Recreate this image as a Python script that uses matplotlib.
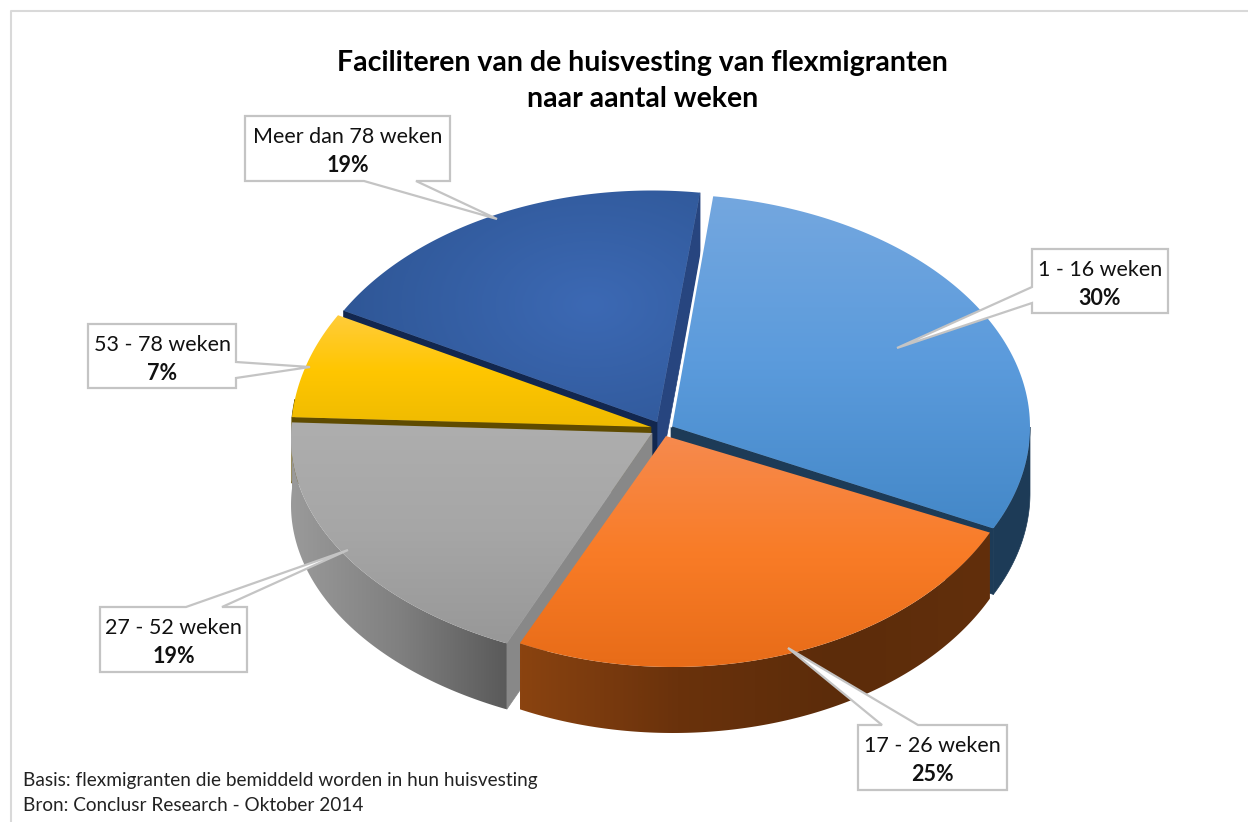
import numpy as np
import matplotlib
matplotlib.use("Agg")
import matplotlib.pyplot as plt
from matplotlib.colors import LinearSegmentedColormap
from matplotlib.patches import Polygon

plt.rcParams['font.family'] = ['Lato', 'DejaVu Sans']

# chart values
labels = ['1 - 16 weken', '17 - 26 weken', '27 - 52 weken', '53 - 78 weken', 'Meer dan 78 weken']
values = [30, 25, 19, 7, 19]
title = 'Faciliteren van de huisvesting van flexmigranten\nnaar aantal weken'
notes = ['Basis: flexmigranten die bemiddeld worden in hun huisvesting',
         'Bron: Conclusr Research - Oktober 2014']
start_angle = 7.8

# slice geometry in pixels: apex, then ellipse centre and radii of the arc
apex = [(671, 426), (666, 436), (652, 433), (651, 427), (657, 422)]
arc = [(662, 427, 368, 233), (673, 429, 352, 238), (673, 439, 382, 227),
       (656, 435, 365, 244), (652, 426.5, 354, 236)]
depth = 66

face_cols = [['#74a7df', '#5b9bdc', '#4488c8'],
             ['#f68a4e', '#f97c27', '#e86c18'],
             ['#aeaeae', '#a6a6a6', '#989898'],
             ['#ffcc3a', '#ffc600', '#efbb00'],
             None]
wall_cols = ['#1d3b57', '#5c2c0a', '#888888', '#5f4b00', '#12274f']

fig = plt.figure(figsize=(12.48, 8.22), dpi=100)
ax = fig.add_axes([0, 0, 1, 1])


def arc_pts(i, t0, t1, n=120):
    cx, cy, a, b = arc[i]
    t = np.radians(np.linspace(t0, t1, n))
    return np.column_stack([cx + a * np.sin(t), cy - b * np.cos(t)])


def flat(verts, color, z=1):
    ax.add_patch(Polygon(verts, closed=True, fc=color, ec=color, lw=0.5, zorder=z))


def shaded(verts, cols, z=1, horizontal=False, radial=None):
    # gradient image clipped to the polygon
    verts = np.asarray(verts)
    x0, y0 = verts.min(axis=0)
    x1, y1 = verts.max(axis=0)
    xx, yy = np.meshgrid(np.linspace(x0, x1, 300), np.linspace(y0, y1, 300))
    if radial is not None:
        g = np.hypot((xx - radial[0]) / 1.5, yy - radial[1]) / radial[2]
        g = np.clip(g, 0, 1)
    elif horizontal:
        g = (xx - x0) / (x1 - x0)
    else:
        g = (yy - y0) / (y1 - y0)
    cmap = LinearSegmentedColormap.from_list('c', cols)
    im = ax.imshow(g, extent=[x0, x1, y1, y0], cmap=cmap, vmin=0, vmax=1,
                   aspect='auto', zorder=z, interpolation='bilinear')
    p = Polygon(verts, closed=True, transform=ax.transData)
    im.set_clip_path(p)


def wall(p, q, color, z):
    flat([p, q, (q[0], q[1] + depth), (p[0], p[1] + depth)], color, z)


# slice angles come from the values
edges = start_angle + np.cumsum([0] + values) * 3.6
pts = [arc_pts(i, edges[i], edges[i + 1]) for i in range(5)]

# dark blue slice (back)
wall(apex[4], pts[4][-1], '#27457f', 2)
wall(apex[4], pts[4][0], wall_cols[4], 2)
shaded(np.vstack([[apex[4]], pts[4]]), ['#3c69b4', '#2d5492'], z=3, radial=(590, 305, 190))

# yellow
wall(apex[3], pts[3][0], wall_cols[3], 4)
side = arc_pts(3, edges[3], 270 + (edges[3] - 270) * 2, 10)
flat(np.vstack([side, (side + [0, depth])[::-1]]), wall_cols[3], 4)
shaded(np.vstack([[apex[3]], pts[3]]), face_cols[3], z=5)

# grey
wall(apex[2], pts[2][0], wall_cols[2], 6)
side = pts[2][::-1]
shaded(np.vstack([side, (side + [0, depth])[::-1]]), ['#9a9a9a', '#808080', '#5a5a5a'], z=6, horizontal=True)
shaded(np.vstack([[apex[2]], pts[2]]), face_cols[2], z=7)

# light blue
wall(apex[0], pts[0][-1], wall_cols[0], 8)
side = arc_pts(0, 90, edges[1])
flat(np.vstack([side, (side + [0, depth])[::-1]]), wall_cols[0], 8)
shaded(np.vstack([[apex[0]], pts[0]]), face_cols[0], z=9)
ax.plot([pts[0][0][0], apex[0][0]], [pts[0][0][1], apex[0][1]], color='white', lw=1.8, zorder=9.5)

# orange (front)
side = pts[1]
shaded(np.vstack([side, (side + [0, depth])[::-1]]),
       ['#8a4310', '#6a320c', '#5c2c0a', '#622f0c'], z=10, horizontal=True)
shaded(np.vstack([[apex[1]], pts[1]]), face_cols[1], z=11)

# callouts: box, tail, two text lines
callouts = [
    ((1032, 249, 1168, 313), [(1032, 287), (897, 348), (1032, 303)]),
    ((858, 725, 1007, 790), [(882, 725), (788, 648), (918, 725)]),
    ((100, 607, 247, 672), [(186, 607), (348, 550), (222, 607)]),
    ((88, 324, 236, 388), [(236, 362), (310, 367), (236, 378)]),
    ((245, 116, 450, 181), [(364, 181), (497, 219), (416, 181)]),
]
for i, (box, tail) in enumerate(callouts):
    x0, y0, x1, y1 = box
    # splice the tail into the side of the box it leaves from
    if tail[0][1] == y1:
        verts = [(x0, y0), (x1, y0), (x1, y1), tail[2], tail[1], tail[0], (x0, y1)]
    elif tail[0][1] == y0:
        verts = [(x0, y0), tail[0], tail[1], tail[2], (x1, y0), (x1, y1), (x0, y1)]
    elif tail[0][0] == x1:
        verts = [(x0, y0), (x1, y0), tail[0], tail[1], tail[2], (x1, y1), (x0, y1)]
    else:
        verts = [(x0, y0), (x1, y0), (x1, y1), (x0, y1), tail[2], tail[1], tail[0]]
    ax.add_patch(Polygon(verts, closed=True, fc='white', ec='#c4c4c4', lw=1.6, zorder=20, joinstyle='miter'))
    xm = (x0 + x1) / 2
    ax.text(xm, y0 + 21, labels[i], ha='center', va='center', fontsize=15.5, color='#111111', zorder=21)
    ax.text(xm, y0 + 49, f'{values[i]}%', ha='center', va='center', fontsize=15.5,
            fontweight='bold', color='#111111', zorder=21)

ax.text(642.5, 81, title, ha='center', va='center', fontsize=20.5, fontweight='bold',
        color='black', linespacing=1.43, zorder=21)
ax.text(23, 780, notes[0], ha='left', va='center', fontsize=13.7, color='#222222', zorder=21)
ax.text(23, 805, notes[1], ha='left', va='center', fontsize=13.7, color='#222222', zorder=21)

# outer frame, only left and top show
ax.plot([11, 11, 1248], [822, 11, 11], color='#d9d9d9', lw=1.5, zorder=0)

ax.set_xlim(0, 1248)
ax.set_ylim(822, 0)
ax.axis('off')
fig.savefig('out.png', dpi=100)
